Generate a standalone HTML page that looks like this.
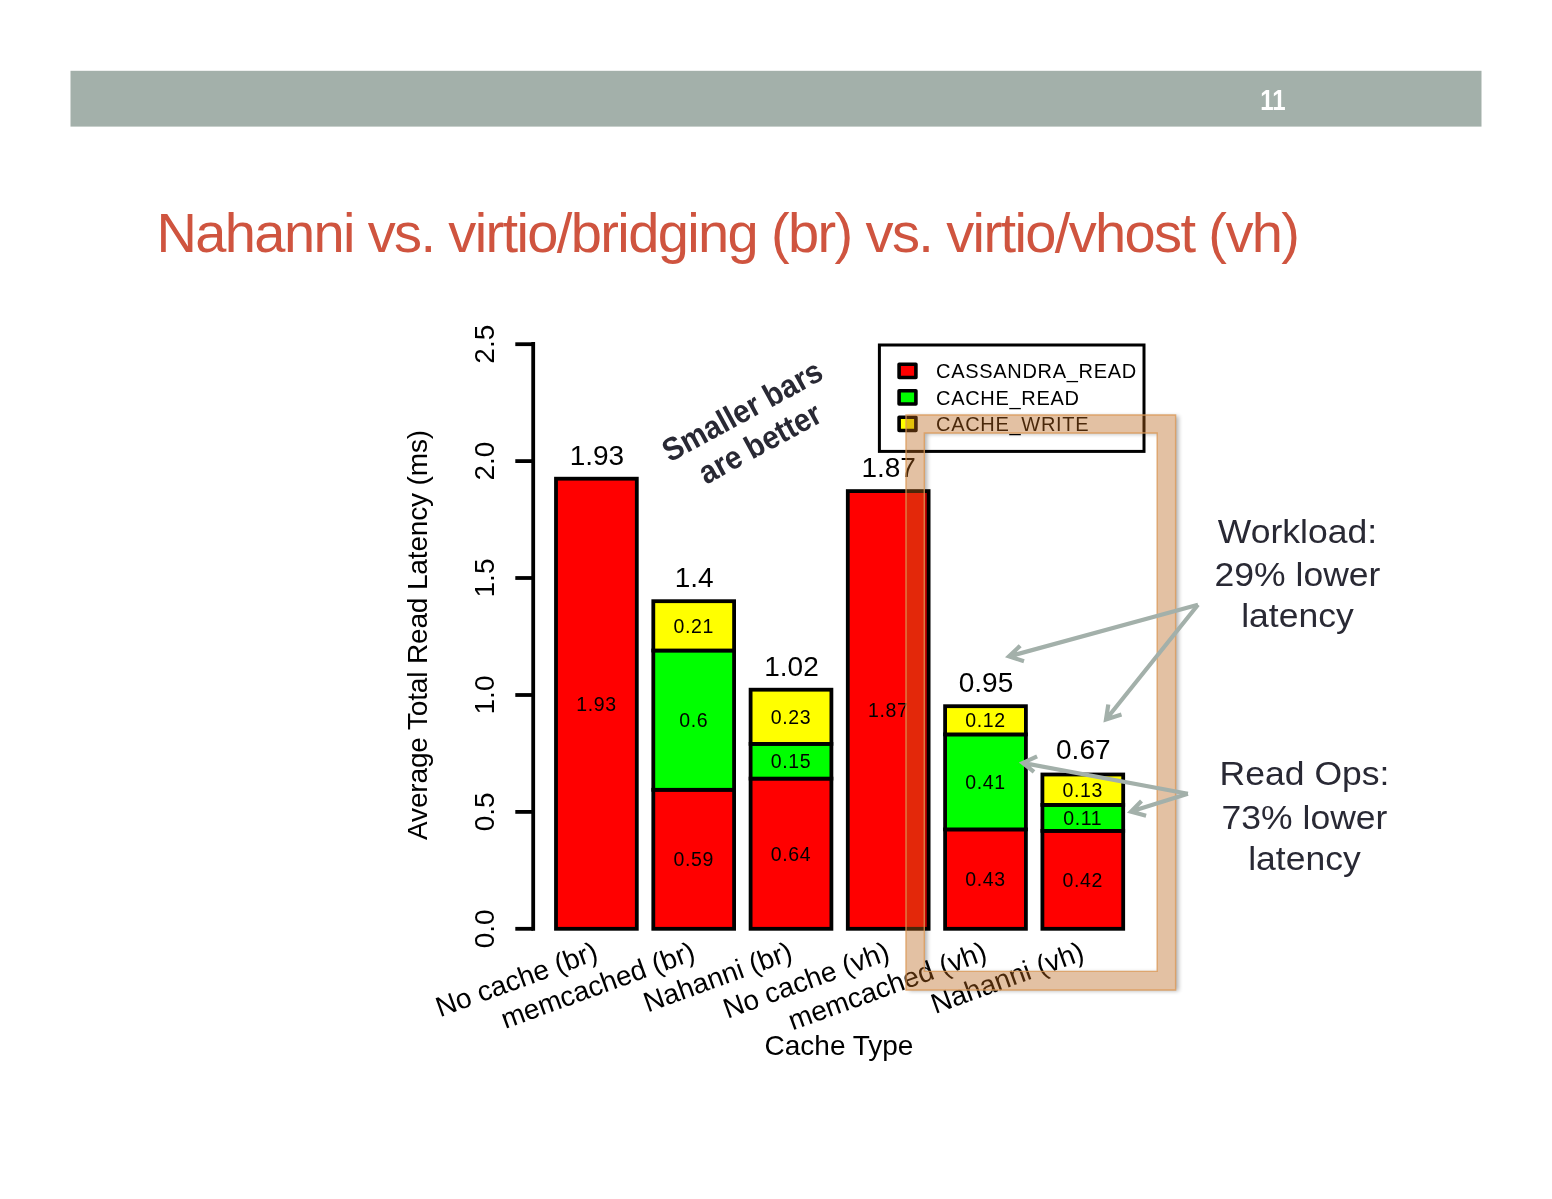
<!DOCTYPE html>
<html lang="en"><head><meta charset="utf-8"><title>Nahanni vs. virtio/bridging (br) vs. virtio/vhost (vh)</title>
<style>
html,body{margin:0;padding:0;background:#fff;}
body{width:1552px;height:1199px;overflow:hidden;position:relative;font-family:"Liberation Sans",sans-serif;}
svg{position:absolute;left:0;top:0;display:block;}
svg text{font-family:"Liberation Sans",sans-serif;}
.t27{font-size:28px;fill:#000;}
.t19{font-size:19.5px;fill:#000;letter-spacing:0.6px;}
.lg{font-size:20px;fill:#000;letter-spacing:0.7px;}
.ann{font-size:34px;fill:#292934;}
</style></head><body>
<svg width="1552" height="1199" viewBox="0 0 1552 1199">
<defs>
<filter id="sh" filterUnits="userSpaceOnUse" x="880" y="390" width="330" height="630"><feGaussianBlur in="SourceAlpha" stdDeviation="2.3"/><feOffset dx="2.6" dy="0.8"/><feComponentTransfer><feFuncA type="linear" slope="0.3"/></feComponentTransfer></filter>
</defs>
<rect x="0" y="0" width="1552" height="1199" fill="#ffffff"/>
<rect x="70.5" y="70.8" width="1411" height="55.8" fill="#a3b0aa"/>
<text transform="translate(1273.0 110.2) scale(0.8 1)" font-size="30" font-weight="bold" fill="#ffffff" text-anchor="middle">11</text>
<text id="title" x="156.5" y="251.7" font-size="56" fill="#cf543f" letter-spacing="-1.62">Nahanni vs. virtio/bridging (br) vs. virtio/vhost (vh)</text>

<g stroke="#000" stroke-width="3.8" fill="none" stroke-linecap="butt">
<path d="M533.2 342.1 V930.6999999999999"/>
<path d="M515.3 928.8 H533.2"/>
<path d="M515.3 811.9 H533.2"/>
<path d="M515.3 695.0 H533.2"/>
<path d="M515.3 578.0 H533.2"/>
<path d="M515.3 461.1 H533.2"/>
<path d="M515.3 344.2 H533.2"/>
</g>
<text class="t27" text-anchor="middle" transform="translate(494 928.8) rotate(-90)">0.0</text>
<text class="t27" text-anchor="middle" transform="translate(494 811.9) rotate(-90)">0.5</text>
<text class="t27" text-anchor="middle" transform="translate(494 695.0) rotate(-90)">1.0</text>
<text class="t27" text-anchor="middle" transform="translate(494 578.0) rotate(-90)">1.5</text>
<text class="t27" text-anchor="middle" transform="translate(494 461.1) rotate(-90)">2.0</text>
<text class="t27" text-anchor="middle" transform="translate(494 344.2) rotate(-90)">2.5</text>
<text class="t27" text-anchor="middle" letter-spacing="-0.15" transform="translate(426.7 635) rotate(-90)">Average Total Read Latency (ms)</text>
<rect x="556.0" y="478.7" width="80.8" height="450.1" fill="#ff0000" stroke="#000" stroke-width="3.8"/>
<text class="t19" text-anchor="middle" x="596.4" y="710.5">1.93</text>
<text class="t27" text-anchor="middle" x="596.9" y="465.0">1.93</text>
<rect x="653.3" y="789.8" width="80.8" height="139.0" fill="#ff0000" stroke="#000" stroke-width="3.8"/>
<text class="t19" text-anchor="middle" x="693.7" y="866.1">0.59</text>
<rect x="653.3" y="650.5" width="80.8" height="139.3" fill="#00ff00" stroke="#000" stroke-width="3.8"/>
<text class="t19" text-anchor="middle" x="693.7" y="727.0">0.6</text>
<rect x="653.3" y="601.2" width="80.8" height="49.3" fill="#ffff00" stroke="#000" stroke-width="3.8"/>
<text class="t19" text-anchor="middle" x="693.7" y="632.7">0.21</text>
<text class="t27" text-anchor="middle" x="694.2" y="586.7">1.4</text>
<rect x="750.6" y="778.6" width="80.8" height="150.2" fill="#ff0000" stroke="#000" stroke-width="3.8"/>
<text class="t19" text-anchor="middle" x="791.0" y="860.5">0.64</text>
<rect x="750.6" y="743.9" width="80.8" height="34.7" fill="#00ff00" stroke="#000" stroke-width="3.8"/>
<text class="t19" text-anchor="middle" x="791.0" y="768.0">0.15</text>
<rect x="750.6" y="689.7" width="80.8" height="54.2" fill="#ffff00" stroke="#000" stroke-width="3.8"/>
<text class="t19" text-anchor="middle" x="791.0" y="723.6">0.23</text>
<text class="t27" text-anchor="middle" x="791.5" y="675.6">1.02</text>
<rect x="847.8" y="491.1" width="80.8" height="437.7" fill="#ff0000" stroke="#000" stroke-width="3.8"/>
<text class="t19" text-anchor="middle" x="888.2" y="716.7">1.87</text>
<text class="t27" text-anchor="middle" x="888.7" y="476.9">1.87</text>
<rect x="945.1" y="829.4" width="80.8" height="99.4" fill="#ff0000" stroke="#000" stroke-width="3.8"/>
<text class="t19" text-anchor="middle" x="985.5" y="885.9">0.43</text>
<rect x="945.1" y="734.4" width="80.8" height="95.0" fill="#00ff00" stroke="#000" stroke-width="3.8"/>
<text class="t19" text-anchor="middle" x="985.5" y="788.7">0.41</text>
<rect x="945.1" y="706.2" width="80.8" height="28.2" fill="#ffff00" stroke="#000" stroke-width="3.8"/>
<text class="t19" text-anchor="middle" x="985.5" y="727.1">0.12</text>
<text class="t27" text-anchor="middle" x="986.0" y="691.9">0.95</text>
<rect x="1042.4" y="830.9" width="80.8" height="97.9" fill="#ff0000" stroke="#000" stroke-width="3.8"/>
<text class="t19" text-anchor="middle" x="1082.8" y="886.6">0.42</text>
<rect x="1042.4" y="804.9" width="80.8" height="26.0" fill="#00ff00" stroke="#000" stroke-width="3.8"/>
<text class="t19" text-anchor="middle" x="1082.8" y="824.7">0.11</text>
<rect x="1042.4" y="774.5" width="80.8" height="30.4" fill="#ffff00" stroke="#000" stroke-width="3.8"/>
<text class="t19" text-anchor="middle" x="1082.8" y="796.5">0.13</text>
<text class="t27" text-anchor="middle" x="1083.3" y="759.1">0.67</text>
<text class="t27" text-anchor="end" transform="translate(599.4 959.2) rotate(-20)">No cache (br)</text>
<text class="t27" text-anchor="end" transform="translate(696.7 959.2) rotate(-20)">memcached (br)</text>
<text class="t27" text-anchor="end" transform="translate(794.0 959.2) rotate(-20)">Nahanni (br)</text>
<text class="t27" text-anchor="end" transform="translate(891.2 959.2) rotate(-20)">No cache (vh)</text>
<text class="t27" text-anchor="end" transform="translate(988.5 959.2) rotate(-20)">memcached (vh)</text>
<text class="t27" text-anchor="end" transform="translate(1085.8 959.2) rotate(-20)">Nahanni (vh)</text>
<text class="t27" text-anchor="middle" x="839" y="1054.8">Cache Type</text>
<rect x="879.4" y="345" width="264.6" height="106.4" fill="#fff" stroke="#000" stroke-width="3"/>
<rect x="899.1" y="364.3" width="16.8" height="13.2" fill="#ff0000" stroke="#000" stroke-width="3.6" stroke-linejoin="round"/>
<text class="lg" x="936" y="378.1">CASSANDRA_READ</text>
<rect x="899.1" y="390.8" width="16.8" height="13.2" fill="#00ff00" stroke="#000" stroke-width="3.6" stroke-linejoin="round"/>
<text class="lg" x="936" y="404.6">CACHE_READ</text>
<rect x="899.1" y="417.3" width="16.8" height="13.2" fill="#ffff00" stroke="#000" stroke-width="3.6" stroke-linejoin="round"/>
<text class="lg" x="936" y="431.1">CACHE_WRITE</text>
<g transform="translate(747.5 420.5) rotate(-28.5) scale(0.91 1)" font-size="32.4" font-weight="bold" fill="#292934" text-anchor="middle"><text x="0" y="0">Smaller bars</text><text x="0" y="36.8">are better</text></g>
<mask id="fm" maskUnits="userSpaceOnUse" x="880" y="390" width="330" height="630"><rect x="880" y="390" width="330" height="630" fill="#fff"/><path fill-rule="evenodd" fill="#000" d="M906 415H1175.6V990H906Z M924.3 433V971.4H1157.2V433Z"/></mask>
<g mask="url(#fm)"><path filter="url(#sh)" fill-rule="evenodd" fill="#000" d="M906 415H1175.6V990H906Z M924.3 433V971.4H1157.2V433Z"/></g>
<path fill-rule="evenodd" fill="#b9631a" fill-opacity="0.40" stroke="#dc9a58" stroke-opacity="0.8" stroke-width="1.4" d="M906 415H1175.6V990H906Z M924.3 433V971.4H1157.2V433Z"/>
<g stroke="#a3b0aa" stroke-width="4.2" fill="none" stroke-linecap="butt" stroke-linejoin="miter">
<path d="M1198 604.7L1009.0 656.4M1020.2 645.7L1009.0 656.4L1024 661.2"/>
<path d="M1198 604.7L1106.0 719.5M1108.3 704.5L1106.0 719.5L1121.5 714.5"/>
<path d="M1187.9 793.7L1022.8 762.9M1037.1 756.3L1022.8 762.9L1034 771.8"/>
<path d="M1187.9 793.7L1131.0 811.6M1141.5 801.1L1131.0 811.6L1146.1 815.8"/>
</g>
<text class="ann" text-anchor="middle" transform="translate(1297.5 542.8) scale(1.045 1)">Workload:</text>
<text class="ann" text-anchor="middle" transform="translate(1297.5 586.0) scale(1.045 1)">29% lower</text>
<text class="ann" text-anchor="middle" transform="translate(1297.5 626.8) scale(1.045 1)">latency</text>
<text class="ann" text-anchor="middle" transform="translate(1304.5 785.4) scale(1.045 1)">Read Ops:</text>
<text class="ann" text-anchor="middle" transform="translate(1304.5 829.2) scale(1.045 1)">73% lower</text>
<text class="ann" text-anchor="middle" transform="translate(1304.5 869.5) scale(1.045 1)">latency</text>
</svg></body></html>
